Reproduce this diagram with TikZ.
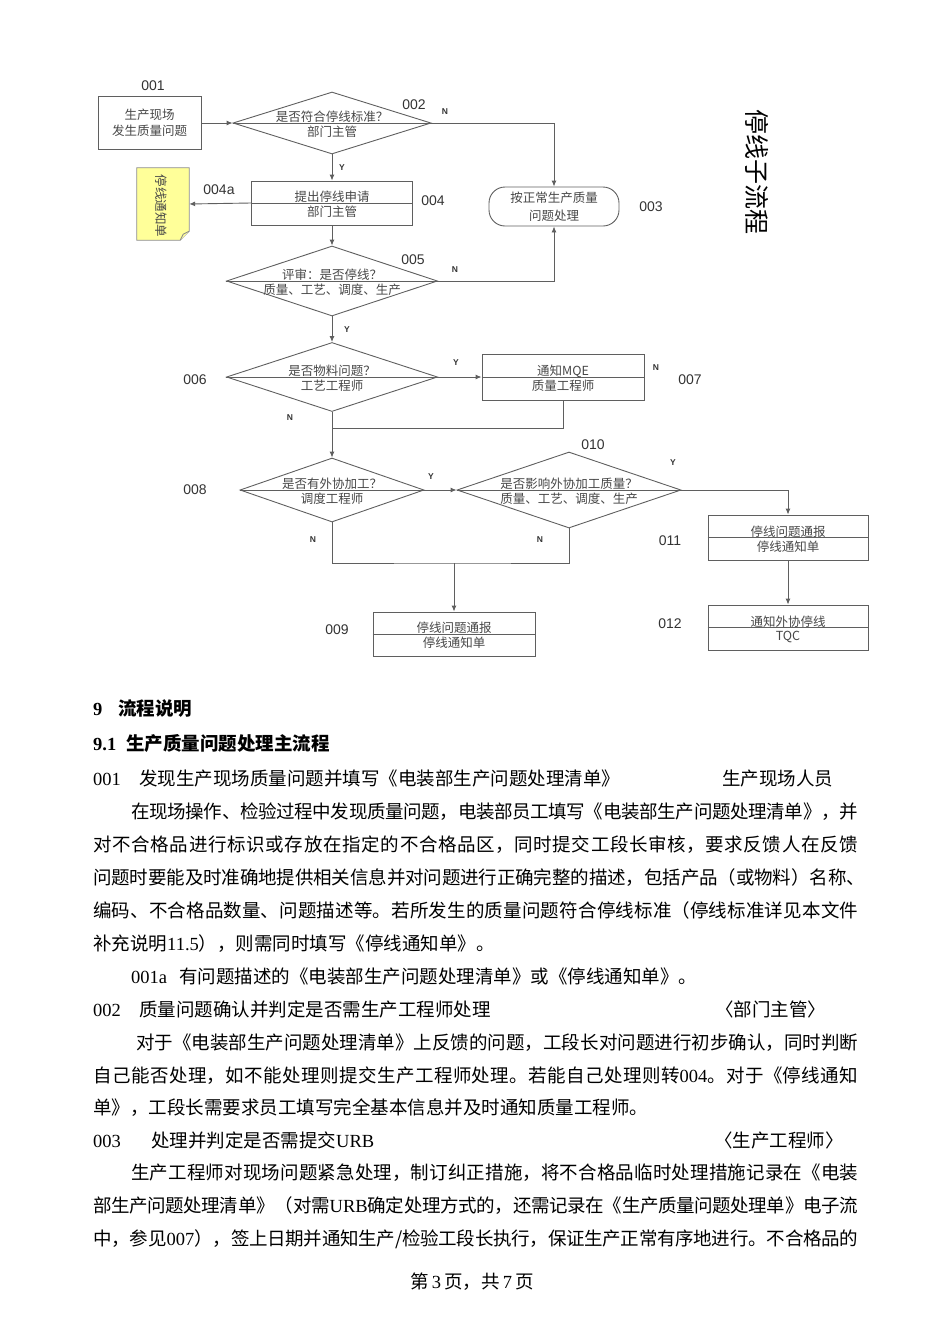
\documentclass[tikz,border=0pt]{standalone}
\usepackage{fontspec}
\setmainfont{Liberation Serif}
\setsansfont{Liberation Sans}
\newfontfamily\cjk{Noto Sans CJK SC}
\usetikzlibrary{shapes.geometric,arrows.meta}

\XeTeXlinebreaklocale "zh"
\XeTeXlinebreakskip=0pt plus 2pt minus 1pt
\XeTeXlinebreakpenalty=10000

\definecolor{linegray}{RGB}{95,95,95}
\definecolor{textgray}{RGB}{70,70,70}
\definecolor{notice}{RGB}{255,255,153}

\newcommand{\latn}[1]{{\rmfamily #1}}

\tikzset{
  flow/.style={draw=linegray, line width=0.9pt},
  arr/.style={flow, -{Latex[length=6pt,width=5pt]}},
  stepbox/.style 2 args={draw=linegray, line width=0.9pt, rectangle, minimum width=#1pt, minimum height=#2pt, inner sep=0pt},
  decide/.style 2 args={draw=linegray, line width=0.9pt, diamond, minimum width=#1pt, minimum height=#2pt, inner sep=0pt},
  endbox/.style 2 args={stepbox={#1}{#2}, rounded corners=16pt},
  boxtxt/.style={font={\cjk\fontsize{12.5}{16}\selectfont}, text=textgray, inner sep=0pt},
  docline/.style={draw=black!45, fill=notice, line width=0.8pt},
  stepno/.style={font={\sffamily\fontsize{14}{16}\selectfont}, text=black!80, inner sep=0pt},
  yn/.style={font={\sffamily\bfseries\fontsize{8.5}{10}\selectfont}, text=black!80, inner sep=0pt},
  body/.style={font={\cjk\fontsize{18.5}{22}\selectfont}, anchor=base west, inner sep=0pt},
  headline/.style={body, font={\cjk\bfseries\fontsize{18.5}{22}\selectfont}},
}

\begin{document}
\begin{tikzpicture}[x=1pt,y=-1pt]
\useasboundingbox (0,0) rectangle (950,1344);

% flow chart
\node[stepbox={103}{53}, boxtxt, align=center] (n001) at (149.5,123) {生产现场\\发生质量问题};
\node[decide={198}{62}] (d002) at (332,123) {};
\node[stepbox={161}{44}] (b004) at (332,203) {};
\node[minimum width=52pt, minimum height=72pt, inner sep=0pt] (doc004a) at (163,204) {};
\node[endbox={130}{39}, boxtxt, align=center, font={\cjk\fontsize{12.5}{18}\selectfont}] (r003) at (554,206.5) {按正常生产质量\\问题处理};
\node[decide={211}{70}] (d005) at (332,281) {};
\node[decide={211}{69}] (d006) at (332,377) {};
\node[stepbox={162}{46}] (b007) at (563,377) {};
\node[decide={184}{64}] (d008) at (332,490) {};
\node[decide={224}{76}] (d010) at (569,490) {};
\node[stepbox={160}{45}] (b011) at (788,537.5) {};
\node[stepbox={160}{45}] (b012) at (788,627.5) {};
\node[stepbox={162}{44}] (b009) at (454,634) {};
\coordinate (m007) at (332,428);
\coordinate (m009) at (454,563);

\foreach \n in {d002,b004,d005,d006,b007,d008,d010,b011,b012,b009}
  \draw[flow] (\n.west) -- (\n.east);

\foreach \n/\up/\dn in {d002/是否符合停线标准？/部门主管, b004/提出停线申请/部门主管,
    d005/评审：是否停线？/质量、工艺、调度、生产, d006/是否物料问题？/工艺工程师,
    b007/通知MQE/质量工程师, d008/是否有外协加工？/调度工程师,
    d010/是否影响外协加工质量？/质量、工艺、调度、生产, b011/停线问题通报/停线通知单,
    b012/通知外协停线/TQC, b009/停线问题通报/停线通知单}
{
  \node[boxtxt] (\n-up) at ([yshift=6pt]\n.center) {\up};
  \node[boxtxt] (\n-dn) at ([yshift=-9pt]\n.center) {\dn};
}

\filldraw[docline] (doc004a.north west) -- (doc004a.north east) -- ([yshift=9pt]doc004a.south east)
  -- ([xshift=-9pt]doc004a.south east) -- (doc004a.south west) -- cycle;
\draw[docline] ([xshift=-9pt]doc004a.south east) -- ([xshift=-6pt,yshift=6pt]doc004a.south east)
  -- ([yshift=9pt]doc004a.south east);
\node[boxtxt, rotate=-90, font={\cjk\fontsize{12.5}{14}\selectfont}] (t004a) at ([xshift=-2pt,yshift=-2pt]doc004a.center) {停线通知单};

\draw[arr] (n001.east) -- (d002.west);
\draw[arr] (d002.east) -| (r003.north);
\draw[arr] (d002.south) -- (b004.north);
\draw[arr] (b004.west) -- (doc004a.east);
\draw[arr] (b004.south) -- (d005.north);
\draw[arr] (d005.east) -| (r003.south);
\draw[arr] (d005.south) -- (d006.north);
\draw[arr] (d006.east) -- (b007.west);
\draw[flow] (b007.south) |- (m007);
\draw[arr] (d006.south) -- (d008.north);
\draw[arr] (d008.east) -- (d010.west);
\draw[arr] (d010.east) -| (b011.north);
\draw[arr] (b011.south) -- (b012.north);
\draw[flow] (d008.south) |- (m009) -| (d010.south);
\draw[arr] (m009) -- (b009.north);

\foreach \t/\x/\y in {001/153/86, 002/414/105, 003/651/207, 004/433/201, 004a/219/190,
    005/413/260, 006/195/380, 007/690/380, 008/195/490, 009/337/630, 010/593/445,
    011/670/541, 012/670/624}
  \node[stepno] (s\t) at (\x,\y) {\t};

\foreach \t/\x/\y [count=\k] in {N/445/112, Y/342/168, N/455/270, Y/347/330, Y/456/363,
    N/656/368, N/290/418, Y/431/477, Y/673/463, N/313/540, N/540/540}
  \node[yn] (yn\k) at (\x,\y) {\t};

\node[rotate=-90, font={\cjk\fontsize{25}{25}\selectfont}] (title) at (757,172) {停线子流程};

% text below the chart
\node[headline] (h1a) at (93,715) {\latn{\bfseries 9}};
\node[headline] (h1b) at (118,715) {流程说明};
\node[headline] (h2a) at (93,750) {\latn{\bfseries 9.1}};
\node[headline] (h2b) at (126,750) {生产质量问题处理主流程};

\node[body] (l03a) at (93,785) {\latn{001}};
\node[body] (l03b) at (139,785) {发现生产现场质量问题并填写《电装部生产问题处理清单》};
\node[body] (l03c) at (722,785) {生产现场人员};
\node[body] (l04) at (131,818) {\parbox[t]{727pt}{\parfillskip=0pt\relax 在现场操作、检验过程中发现质量问题，电装部员工填写《电装部生产问题处理清单》，并}};
\node[body] (l05) at (93,851) {\parbox[t]{765pt}{\parfillskip=0pt\relax 对不合格品进行标识或存放在指定的不合格品区，同时提交工段长审核，要求反馈人在反馈}};
\node[body] (l06) at (93,884) {\parbox[t]{772pt}{\parfillskip=0pt\relax 问题时要能及时准确地提供相关信息并对问题进行正确完整的描述，包括产品（或物料）名称、}};
\node[body] (l07) at (93,917) {\parbox[t]{765pt}{\parfillskip=0pt\relax 编码、不合格品数量、问题描述等。若所发生的质量问题符合停线标准（停线标准详见本文件}};
\node[body] (l08) at (93,950) {补充说明\latn{11.5}），则需同时填写《停线通知单》。};
\node[body] (l09a) at (131,983) {\latn{001a}};
\node[body] (l09b) at (179,983) {有问题描述的《电装部生产问题处理清单》或《停线通知单》。};
\node[body] (l10a) at (93,1016) {\latn{002}};
\node[body] (l10b) at (139,1016) {质量问题确认并判定是否需生产工程师处理};
\node[body] (l10c) at (715,1016) {〈部门主管〉};
\node[body] (l11) at (136,1049) {\parbox[t]{722pt}{\parfillskip=0pt\relax 对于《电装部生产问题处理清单》上反馈的问题，工段长对问题进行初步确认，同时判断}};
\node[body] (l12) at (93,1082) {\parbox[t]{765pt}{\parfillskip=0pt\relax 自己能否处理，如不能处理则提交生产工程师处理。若能自己处理则转\latn{004}。对于《停线通知}};
\node[body] (l13) at (93,1114) {单》，工段长需要求员工填写完全基本信息并及时通知质量工程师。};
\node[body] (l14a) at (93,1147) {\latn{003}};
\node[body] (l14b) at (151,1147) {处理并判定是否需提交\latn{URB}};
\node[body] (l14c) at (714,1147) {〈生产工程师〉};
\node[body] (l15) at (131,1179) {\parbox[t]{727pt}{\parfillskip=0pt\relax 生产工程师对现场问题紧急处理，制订纠正措施，将不合格品临时处理措施记录在《电装}};
\node[body] (l16) at (93,1212) {\parbox[t]{765pt}{\parfillskip=0pt\relax 部生产问题处理清单》（对需\latn{URB}确定处理方式的，还需记录在《生产质量问题处理单》电子流}};
\node[body] (l17) at (93,1245) {\parbox[t]{765pt}{\parfillskip=0pt\relax 中，参见\latn{007}），签上日期并通知生产/检验工段长执行，保证生产正常有序地进行。不合格品的}};

\node[body, anchor=base] (foot) at (472,1288) {第\latn{\,3\,}页，共\latn{\,7\,}页};
\end{tikzpicture}
\end{document}
